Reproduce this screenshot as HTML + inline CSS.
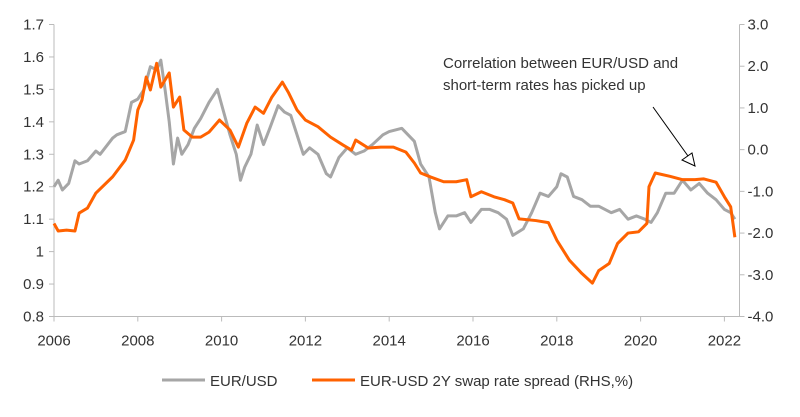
<!DOCTYPE html>
<html><head><meta charset="utf-8"><style>
body{margin:0;background:#fff}
svg text{font-family:"Liberation Sans",sans-serif;fill:#333;font-size:15px}
</style></head><body>
<svg id="c" width="800" height="412"></svg>
<script>
const years=[2006,2008,2010,2012,2014,2016,2018,2020,2022];
const leftTicks=[0.8,0.9,1,1.1,1.2,1.3,1.4,1.5,1.6,1.7];
const rightTicks=[-4,-3,-2,-1,0,1,2,3];
const eurT=[2006.0,2006.1,2006.2,2006.35,2006.5,2006.6,2006.8,2007.0,2007.1,2007.4,2007.5,2007.7,2007.85,2008.0,2008.15,2008.3,2008.45,2008.55,2008.65,2008.75,2008.85,2008.95,2009.05,2009.2,2009.35,2009.5,2009.7,2009.9,2010.05,2010.2,2010.35,2010.45,2010.55,2010.7,2010.85,2011.0,2011.15,2011.35,2011.5,2011.65,2011.8,2011.95,2012.1,2012.3,2012.5,2012.6,2012.8,2013.0,2013.2,2013.4,2013.6,2013.85,2014.0,2014.3,2014.45,2014.6,2014.75,2014.95,2015.1,2015.2,2015.4,2015.6,2015.8,2015.95,2016.2,2016.4,2016.6,2016.8,2016.95,2017.2,2017.4,2017.6,2017.8,2018.0,2018.1,2018.25,2018.4,2018.6,2018.8,2019.0,2019.3,2019.5,2019.7,2019.9,2020.1,2020.25,2020.4,2020.6,2020.8,2021.0,2021.2,2021.4,2021.6,2021.8,2022.0,2022.15,2022.25];
const eurV=[1.20,1.22,1.19,1.21,1.28,1.27,1.28,1.31,1.30,1.35,1.36,1.37,1.46,1.47,1.50,1.57,1.56,1.59,1.50,1.40,1.27,1.35,1.30,1.33,1.38,1.41,1.46,1.50,1.43,1.36,1.30,1.22,1.26,1.30,1.39,1.33,1.38,1.45,1.43,1.42,1.36,1.30,1.32,1.30,1.24,1.23,1.29,1.32,1.30,1.31,1.33,1.36,1.37,1.38,1.36,1.34,1.27,1.23,1.12,1.07,1.11,1.11,1.12,1.09,1.13,1.13,1.12,1.10,1.05,1.07,1.12,1.18,1.17,1.20,1.24,1.23,1.17,1.16,1.14,1.14,1.12,1.13,1.10,1.11,1.10,1.09,1.12,1.18,1.18,1.22,1.19,1.21,1.18,1.16,1.13,1.12,1.10];
const spT=[2006.0,2006.1,2006.3,2006.5,2006.6,2006.8,2007.0,2007.4,2007.7,2007.9,2008.0,2008.1,2008.2,2008.3,2008.45,2008.55,2008.75,2008.85,2009.0,2009.1,2009.3,2009.5,2009.7,2009.95,2010.2,2010.4,2010.6,2010.8,2011.0,2011.2,2011.45,2011.6,2011.8,2012.0,2012.3,2012.6,2012.9,2013.1,2013.2,2013.5,2013.8,2014.1,2014.4,2014.6,2014.75,2015.0,2015.3,2015.6,2015.85,2015.95,2016.2,2016.5,2016.75,2016.95,2017.1,2017.5,2017.8,2018.0,2018.3,2018.6,2018.85,2019.0,2019.25,2019.45,2019.7,2019.95,2020.15,2020.2,2020.35,2020.7,2021.0,2021.3,2021.5,2021.8,2022.0,2022.15,2022.25];
const spV=[-1.77,-1.95,-1.93,-1.95,-1.52,-1.40,-1.04,-0.65,-0.25,0.23,0.95,1.19,1.74,1.43,2.07,1.50,1.84,1.02,1.26,0.47,0.30,0.30,0.42,0.71,0.47,0.06,0.63,1.02,0.87,1.26,1.62,1.36,0.95,0.71,0.55,0.30,0.11,-0.01,0.23,0.04,0.06,0.06,-0.06,-0.32,-0.56,-0.66,-0.77,-0.77,-0.72,-1.13,-1.01,-1.13,-1.20,-1.28,-1.66,-1.70,-1.75,-2.17,-2.65,-2.97,-3.20,-2.90,-2.73,-2.25,-2.00,-1.97,-1.77,-0.89,-0.56,-0.64,-0.72,-0.72,-0.70,-0.78,-1.13,-1.37,-2.10];
const NS="http://www.w3.org/2000/svg",svg=document.getElementById('c');
const X0=54,X1=739.5,YT=24.5,YB=316.5;
const xs=t=>X0+(t-2006)*41.9;
const yl=v=>YB-(v-0.8)/0.9*(YB-YT);
const yr=v=>YB-(v+4)/7*(YB-YT);
function el(tag,at,txt){const e=document.createElementNS(NS,tag);for(const k in at)e.setAttribute(k,at[k]);if(txt!==undefined)e.textContent=txt;svg.appendChild(e);return e;}
let a=el('line',{x1:X0,y1:YT,x2:X0,y2:YB,stroke:'#bbb','stroke-width':1});

a=el('line',{x1:X1,y1:YT,x2:X1,y2:YB,stroke:'#bbb','stroke-width':1});

a=el('line',{x1:X0,y1:YB,x2:X1,y2:YB,stroke:'#bbb','stroke-width':1});

leftTicks.forEach(v=>{const y=yl(v);el('line',{x1:X0-5,y1:y,x2:X0,y2:y,stroke:'#bbb'});
const t=el('text',{x:X0-10,y:y+5,'text-anchor':'end'},String(v));
});
rightTicks.forEach(v=>{const y=yr(v);el('line',{x1:X1,y1:y,x2:X1+5,y2:y,stroke:'#bbb'});
const t=el('text',{x:X1+8,y:y+5},v.toFixed(1));
});
years.forEach(v=>{const x=xs(v);el('line',{x1:x,y1:YB,x2:x,y2:YB+5,stroke:'#bbb'});
const t=el('text',{x:x,y:YB+29,'text-anchor':'middle'},String(v));
});
let p=el('polyline',{points:eurT.map((t,i)=>xs(t)+','+yl(eurV[i])).join(' '),fill:'none',stroke:'#a6a6a6','stroke-width':3,'stroke-linejoin':'round'});

p=el('polyline',{points:spT.map((t,i)=>xs(t)+','+yr(spV[i])).join(' '),fill:'none',stroke:'#ff6200','stroke-width':3,'stroke-linejoin':'round'});

let t=el('text',{x:443,y:68},'Correlation between EUR/USD and');

t=el('text',{x:443,y:90},'short-term rates has picked up');

a=el('line',{x1:653,y1:107,x2:688,y2:156,stroke:'#000','stroke-width':1});

a=el('polygon',{points:'695,166 682,160 692,153',fill:'#fff',stroke:'#000','stroke-width':1});

a=el('line',{x1:162,y1:380,x2:205,y2:380,stroke:'#a6a6a6','stroke-width':3});

t=el('text',{x:210,y:386},'EUR/USD');

a=el('line',{x1:312,y1:380,x2:355,y2:380,stroke:'#ff6200','stroke-width':3});

t=el('text',{x:360,y:386},'EUR-USD 2Y swap rate spread (RHS,%)');

</script>
</body></html>
